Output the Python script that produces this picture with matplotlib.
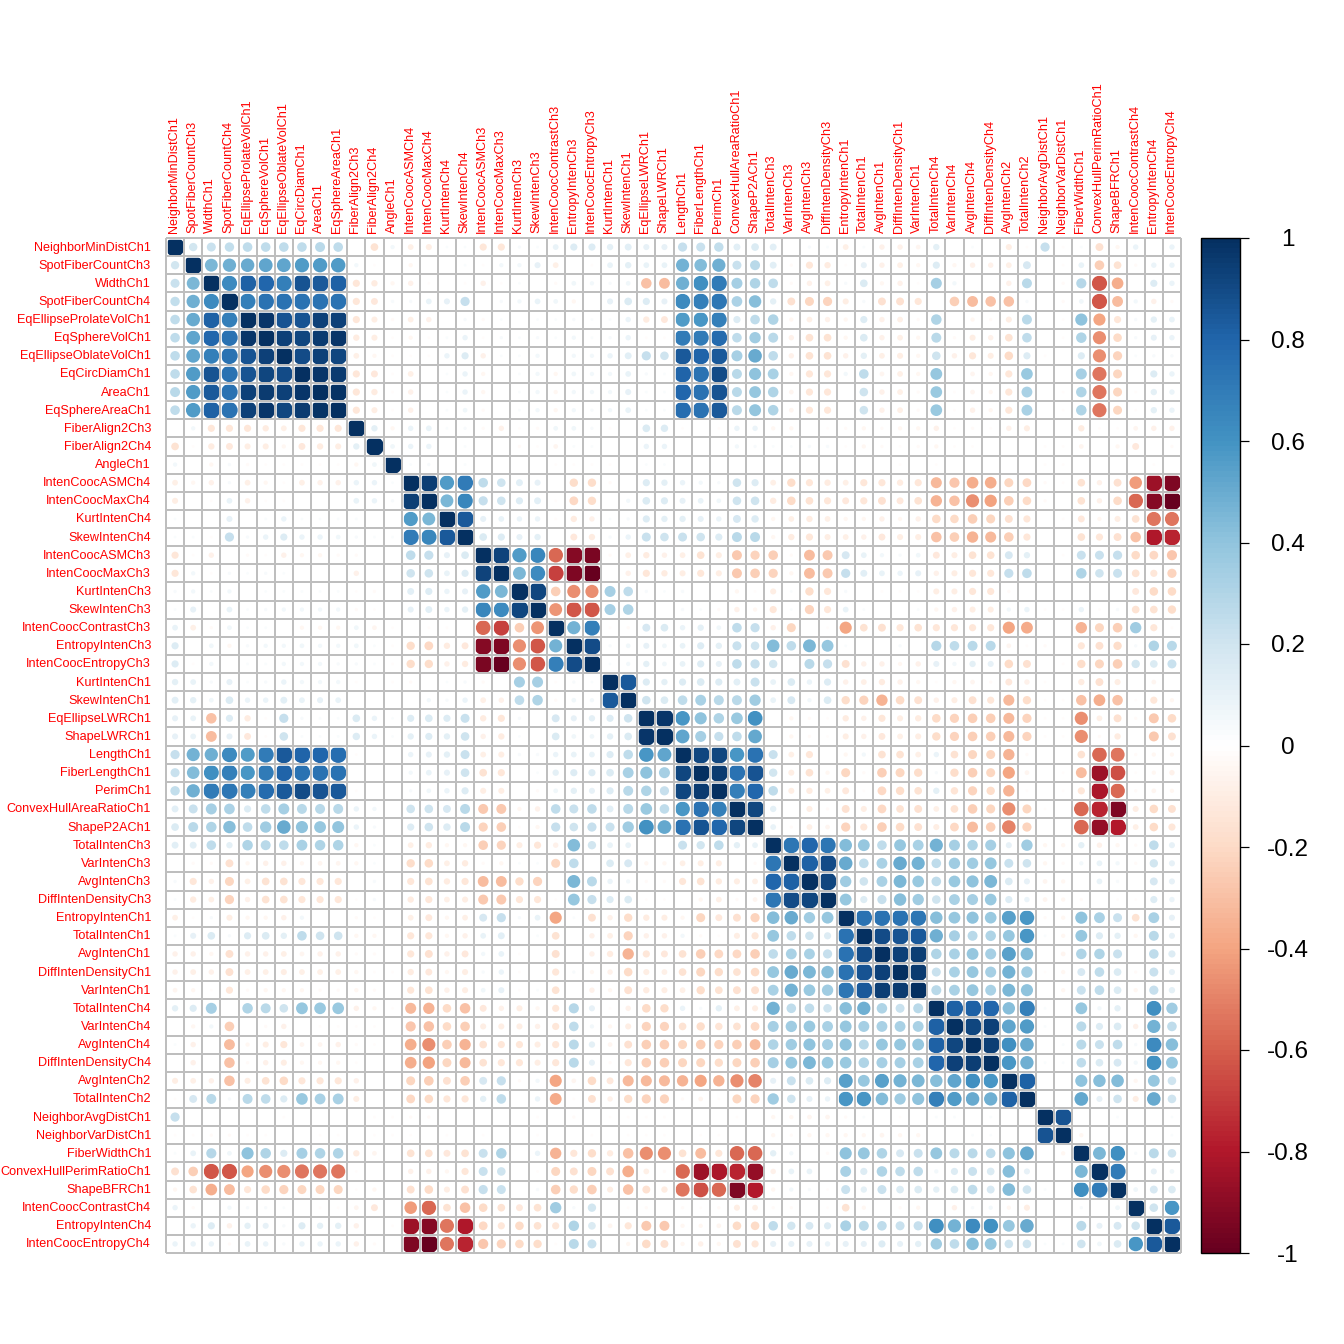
import numpy as np
import matplotlib
matplotlib.use('Agg')
import matplotlib.pyplot as plt
from matplotlib.cm import ScalarMappable
from matplotlib.colors import LinearSegmentedColormap, Normalize
from matplotlib.transforms import ScaledTranslation

plt.rcParams['font.family'] = ['Liberation Sans', 'DejaVu Sans']

names = ['NeighborMinDistCh1', 'SpotFiberCountCh3', 'WidthCh1', 'SpotFiberCountCh4',
         'EqEllipseProlateVolCh1', 'EqSphereVolCh1', 'EqEllipseOblateVolCh1', 'EqCircDiamCh1',
         'AreaCh1', 'EqSphereAreaCh1', 'FiberAlign2Ch3', 'FiberAlign2Ch4', 'AngleCh1',
         'IntenCoocASMCh4', 'IntenCoocMaxCh4', 'KurtIntenCh4', 'SkewIntenCh4',
         'IntenCoocASMCh3', 'IntenCoocMaxCh3', 'KurtIntenCh3', 'SkewIntenCh3',
         'IntenCoocContrastCh3', 'EntropyIntenCh3', 'IntenCoocEntropyCh3', 'KurtIntenCh1',
         'SkewIntenCh1', 'EqEllipseLWRCh1', 'ShapeLWRCh1', 'LengthCh1', 'FiberLengthCh1',
         'PerimCh1', 'ConvexHullAreaRatioCh1', 'ShapeP2ACh1', 'TotalIntenCh3', 'VarIntenCh3',
         'AvgIntenCh3', 'DiffIntenDensityCh3', 'EntropyIntenCh1', 'TotalIntenCh1', 'AvgIntenCh1',
         'DiffIntenDensityCh1', 'VarIntenCh1', 'TotalIntenCh4', 'VarIntenCh4', 'AvgIntenCh4',
         'DiffIntenDensityCh4', 'AvgIntenCh2', 'TotalIntenCh2', 'NeighborAvgDistCh1',
         'NeighborVarDistCh1', 'FiberWidthCh1', 'ConvexHullPerimRatioCh1', 'ShapeBFRCh1',
         'IntenCoocContrastCh4', 'EntropyIntenCh4', 'IntenCoocEntropyCh4']

# upper triangle of the correlation matrix, in hundredths
upper = [
    [19,22,24,25,25,25,25,27,25, 0,-16,5,-9,-10,2,2,-14,-14, 3,2,9,14,14,11,13,10,10,23,22,24,13,16,13,0,3,2, -9,2,-8,-8,-6,11,0,2,0,-10,-2,23,-2,2,-17,-5,8,0,8],
    [45,48,50,52,52,56,56,57, 5,-2,0,-5,0,0,2,-2,5, 5,10,-9,0,-2,9,11,9,9,47,43,48,22,27,13,-3,-14,-11, -2,10,-8,-9,-5,14,-5,-8,-8,-9,17,0,-2,9,-25,-16,-3,8,8],
    [63,82,79,68,86,84,82, -14,-11,-5,-8,-2,0,-2,-8,-2, 2,0,-3,6,5,3,6,-30,-32,48,61,70,33,30,25,-3,-8,-9, 3,16,-5,-8,-2,33,5,0,0,-8,27,0,-3,28,-63,-37,0,14,8],
    [68,74,74,74,74,74, -14,-13,3,3,9,10,23,0,3, 5,9,6,-5,0,10,16,14,10,63,68,72,31,42,11,-17,-22,-23, -10,3,-17,-17,-14,0,-25,-32,-30,-30,3,0,-3,6,-63,-32,5,-8,-3],
    [97,86,86,93,93, -14,-10,-3,-9,-8,0,3,-3,2, 0,2,2,3,2,2,8,-11,-13,56,58,68,14,25,30,-5,-9,-8, -5,14,-8,-9,-3,30,0,-5,-3,-10,27,0,-2,40,-40,-14,3,11,9],
    [93,91,95,97, -11,-10,-2,-5,-2,2,8,-2,3, 2,3,2,5,2,3,8,-2,-2,70,70,77,25,35,27,-8,-16,-16, -5,16,-8,-9,-5,27,-3,-10,-8,-16,25,0,-2,30,-47,-20,3,10,8],
    [89,93,91, -9,-5,-2,-2,-2,8,14,-8,2, 2,5,0,5,5,8,13,23,20,84,80,84,33,50,25,-8,-16,-16, -8,11,-9,-10,-5,20,-8,-14,-10,-20,14,-2,0,14,-47,-23,2,3,3],
    [97,95, -14,-13,-2,-9,0,2,8,-5,0, 2,5,-5,6,5,5,9,3,2,80,74,89,27,40,32,-5,-14,-14, 5,25,-6,-9,-5,38,0,-6,-5,-14,37,0,0,33,-54,-22,0,14,8],
    [98, -14,-11,-2,-8,0,2,8,-5,0, 2,5,-5,5,5,5,10,2,2,79,74,86,27,38,30,-6,-14,-14, 0,20,-8,-9,-3,37,-2,-6,-5,-14,32,0,-2,30,-54,-22,-2,11,8],
    [-14,-10,-2,-8,0,2,6,-3,0, 2,5,-5,5,3,5,9,2,2,76,74,84,27,39,30,-6,-14,-14, 0,20,-8,-9,-3,37,-2,-8,-5,-14,32,0,-2,30,-54,-22,-2,11,8],
    [11,-5,8,9,2,3,-3,-8, -2,-3,6,6,3,-2,0,16,15,-2,0,-2,8,8,-5,-5,0,-2, -3,-5,-3,-5,-5,-8,-2,-3,-2,-8,-10,0,0,-11,-2,-2,-6,-8,-8],
    [6,8,8,0,2,0,0, -3,-2,-6,2,2,0,0,8,8,0,0,0,5,3,2,2,3,3, -2,-5,-3,-2,-3,-5,-2,-2,0,0,0,-2,-2,-6,0,-5,-13,0,-3],
    [2,3,0,2,0,0, 0,0,-2,-2,-2,-2,0,2,2,0,0,0,0,0,0,0,0,0, 0,0,0,-2,0,-2,0,0,0,0,0,-2,-2,0,0,0,0,-2,0],
    [94,56,70,25,20, 13,10,0,-19,-19,-3,0,14,11,8,5,3,20,14,-9,-19,-14,-11, -9,-14,-14,-11,-14,-33,-28,-37,-37,-22,-21,-3,-2,-16,-8,-17,-43,-86,-93],
    [45,65,23,20, 14,13,-2,-21,-19,0,5,16,14,10,9,6,20,20,-11,-20,-16,-14, -13,-14,-17,-13,-16,-35,-30,-47,-41,-25,-20,-3,0,-16,-8,-20,-58,-91,-100],
    [84,10,9, 8,8,-2,-11,-8,2,3,14,11,11,10,8,17,15,-5,-9,-11,-9, -5,-5,-8,-5,-8,-20,-20,-25,-22,-17,-14,0,-2,-13,-5,-10,-16,-54,-54],
    [16,14, 10,11,0,-13,-11,3,8,22,20,22,20,14,27,27,-5,-11,-14,-10, -9,-8,-13,-10,-10,-30,-25,-35,-33,-25,-14,0,0,-16,-14,-17,-30,-80,-77],
    [92, 56,65,-58,-91,-95,-3,-9,-11,-8,-9,-16,-10,-27,-23,-25,-3,-32,-27, 17,9,5,3,6,-13,-10,-16,-16,17,11,0,-2,22,22,23,-20,-21,-28],
    [45,63,-68,-93,-100,0,-8,-14,-11,-10,-14,-10,-27,-25,-23,-5,-32,-27, 23,13,9,8,10,-8,-10,-14,-14,23,25,0,0,30,20,22,-16,-14,-23],
    [91,-25,-47,-47,33,25,3,2,3,0,0,-5,-2,-10,2,-19,-14, 3,0,-2,-2,-2,-10,-10,-14,-14,-3,0,0,0,0,0,0,-13,-20,-20],
    [-45,-63,-63,33,30,0,0,3,2,-3,-8,-5,-14,2,-23,-14, 9,2,0,0,2,-5,-8,-10,-10,5,8,-2,-2,8,-2,3,-16,-16,-19],
    [47,68,-2,-3,17,16,8,11,6,25,23,-8,-22,0,-2, -40,-16,-17,-14,-16,-14,-14,-14,-14,-40,-38,0,0,-35,-22,-25,35,-14,-2],
    [89,3,6,10,6,9,14,11,22,20,43,25,45,38, 2,0,0,3,0,28,25,27,27,-6,-2,-3,0,-14,-17,-19,3,30,27],
    [2,5,11,6,9,14,10,25,23,19,0,27,23, -17,-8,-8,-5,-8,10,5,11,10,-20,-17,0,-2,-19,-22,-25,19,16,22],
    [84,14,11,14,16,14,13,22,9,16,8,14, -8,-9,-11,-8,-5,-2,-5,-6,-3,-13,-8,-2,0,-11,-17,-10,0,-6,0],
    [20,16,25,32,27,27,35,9,17,5,16, -19,-23,-35,-20,-17,-8,-10,-17,-14,-33,-19,-2,-2,-30,-37,-30,-2,-14,-5],
    [97,58,40,30,37,60,0,-5,-3,-2, -11,-8,-14,-10,-11,-20,-23,-25,-25,-33,-23,-2,-2,-47,-9,-17,-3,-27,-20],
    [52,33,23,25,51,0,-5,-3,-2, -10,-8,-13,-9,-10,-19,-23,-25,-25,-33,-23,-2,-2,-47,-3,-11,0,-27,-17],
    [91,91,58,74,22,-9,-14,0, -5,5,-16,-16,-9,8,-16,-22,-22,-35,-3,0,0,-16,-58,-54,-3,-5,-5],
    [95,74,86,19,-10,-16,-5, -22,-3,-25,-22,-19,3,-19,-25,-22,-40,-6,0,-2,-32,-86,-65,-2,-5,-8],
    [68,79,25,-10,-11,-9, -13,-2,-21,-19,-16,11,-15,-23,-19,-35,-2,0,-2,-14,-82,-58,-3,-6,-5],
    [91,11,0,-10,-3, -17,-10,-21,-16,-17,-9,-16,-25,-22,-47,-22,-2,0,-58,-77,-93,-10,-20,-17],
    [9,-3,-9,-6, -23,-14,-25,-20,-17,-10,-21,-32,-25,-50,-23,0,0,-58,-88,-79,-9,-20,-14],
    [72,79,72, 43,38,25,38,32,47,33,30,33,10,35,-5,-5,11,-8,-5,-3,25,10],
    [82,89, 50,25,32,50,47,25,35,35,38,22,20,-5,-3,5,9,5,-3,19,10],
    [91, 35,20,32,45,37,25,37,40,45,16,10,-6,-5,0,9,3,0,17,10],
    [38,14,23,42,35,20,32,33,37,14,8,-6,-5,-3,0,-2,-2,14,8],
    [74,74,74,72,42,38,40,37,54,58,-3,-5,40,32,22,-16,32,10],
    [89,86,84,48,33,27,30,38,58,2,-5,38,14,11,-5,27,10],
    [93,94,30,32,38,33,54,43,0,-6,30,30,22,0,25,14],
    [95,22,32,38,33,47,35,-2,-5,17,25,16,-3,22,10],
    [27,32,38,32,45,40,0,-5,22,25,16,-5,23,11],
    [82,82,79,42,68,2,0,38,5,11,0,61,35],
    [91,93,52,56,2,0,27,14,16,-8,47,25],
    [94,61,50,0,2,27,22,25,3,63,42],
    [58,48,2,2,25,16,17,5,60,38],
    [82,0,0,40,42,43,-5,38,20],
    [0,0,51,10,20,-10,50,20],
    [86,0,0,2,0,0,2],
    [-5,0,0,0,0,2],
    [45,61,3,27,20],
    [70,0,10,6],
    [6,17,16],
    [20,58],
    [84],
]

colorbar_ticks = [1, 0.8, 0.6, 0.4, 0.2, 0, -0.2, -0.4, -0.6, -0.8, -1]
colorbar_labels = ['1', '0.8', '0.6', '0.4', '0.2', '0', '-0.2', '-0.4', '-0.6', '-0.8', '-1']

palette = ['#67001F', '#B2182B', '#D6604D', '#F4A582', '#FDDBC7', '#FFFFFF',
           '#D1E5F0', '#92C5DE', '#4393C3', '#2166AC', '#053061']
cmap = LinearSegmentedColormap.from_list('corr', palette, N=200)
norm = Normalize(-1, 1)

n = len(names)
corr = np.eye(n)
for i, row in enumerate(upper):
    corr[i, i + 1:] = np.array(row) / 100
    corr[i + 1:, i] = corr[i, i + 1:]

W = 1344
px = 72 / 100  # points per pixel at dpi 100

fig = plt.figure(figsize=(13.44, 13.44), dpi=100)
ax = fig.add_axes([166 / W, 91 / W, 1015 / W, 1015 / W])

xx, yy = np.meshgrid(np.arange(n) + 0.5, np.arange(n) + 0.5)
# circle area follows |r|, and the biggest ones get cut square by the grid
ax.scatter(xx.ravel(), yy.ravel(), s=(19.2 * px) ** 2 * np.abs(corr).ravel(),
           c=corr.ravel(), cmap=cmap, norm=norm, linewidths=0, zorder=2)

edges = np.arange(n + 1)
for color, lw, z in [('white', 2.6 * px, 3), ('#BEBEBE', 2.0 * px, 4)]:
    ax.vlines(edges, 0, n, color=color, lw=lw, zorder=z, clip_on=False)
    ax.hlines(edges, 0, n, color=color, lw=lw, zorder=z, clip_on=False)

ax.set_xlim(0, n)
ax.set_ylim(n, 0)
for spine in ax.spines.values():
    spine.set_visible(False)

ax.xaxis.tick_top()
ax.set_xticks(np.arange(n) + 0.5)
ax.set_yticks(np.arange(n) + 0.5)
ax.set_xticklabels(names, rotation=90, color='red', fontsize=9.1, ha='center', va='bottom')
ax.set_yticklabels(names, color='red', fontsize=9.1)
ax.tick_params(axis='x', length=0, pad=5 * px)
ax.tick_params(axis='y', length=0, pad=15 * px)

# nudge the labels one pixel to sit where the original has them
for lab in ax.get_xticklabels():
    lab.set_transform(lab.get_transform() + ScaledTranslation(-1 / 100, 0, fig.dpi_scale_trans))
for lab in ax.get_yticklabels():
    lab.set_transform(lab.get_transform() + ScaledTranslation(0, 1 / 100, fig.dpi_scale_trans))

cax = fig.add_axes([1201 / W, 91 / W, 39 / W, 1015 / W])
cbar = fig.colorbar(ScalarMappable(norm=norm, cmap=cmap), cax=cax)
cbar.outline.set_linewidth(1.4 * px)
cbar.set_ticks(colorbar_ticks)
cax.set_yticklabels(colorbar_labels, ha='center', fontsize=17.5)
cax.tick_params(axis='y', length=9 * px, width=1.2 * px, pad=39 * px)

fig.savefig('out.png', dpi=100)
